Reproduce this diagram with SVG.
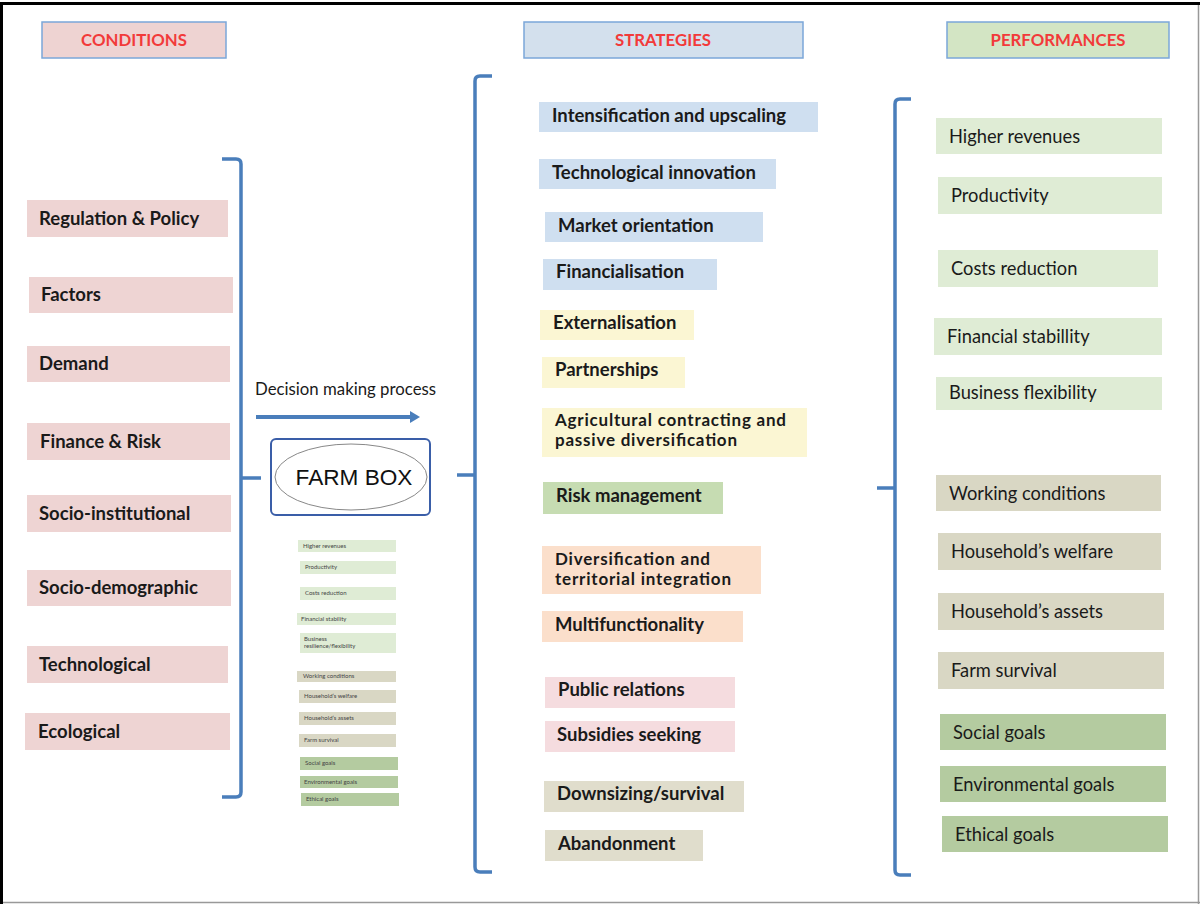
<svg xmlns="http://www.w3.org/2000/svg" width="1200" height="904" viewBox="0 0 1200 904">
<style>
.hdr{stroke:#7ba7d9;stroke-width:1.5}
.ht{font-family:Lato,"Liberation Sans",sans-serif;font-weight:bold;font-size:16.8px;fill:#f23a3a;text-anchor:middle}
.bt{font-family:Lato,"Liberation Sans",sans-serif;font-weight:bold;font-size:18.5px;fill:#1a1a1a}
.b2{font-family:Lato,"Liberation Sans",sans-serif;font-weight:bold;font-size:17px;fill:#1a1a1a}
.pt{font-family:Lato,"Liberation Sans",sans-serif;font-size:18.3px;fill:#1a1a1a}
.st{font-family:Lato,"Liberation Sans",sans-serif;font-size:6px;fill:#444}
.c{fill:#eed4d3}
.sb{fill:#cfdff0}
.sy{fill:#fbf6d3}
.sg{fill:#c6dcb2}
.so{fill:#fbdfcb}
.sp{fill:#f5dcdf}
.se{fill:#e0ddcc}
.pl{fill:#dfecd5}
.pe{fill:#d9d7c4}
.pg{fill:#b4cba0}
.br{fill:none;stroke:#4a7ebb;stroke-width:3.5;stroke-linejoin:round;stroke-linecap:butt}
</style>
<defs>
<marker id="ah" markerWidth="10" markerHeight="12" refX="1" refY="6" orient="auto" markerUnits="userSpaceOnUse"><path d="M0,0 L10,6 L0,12 Z" fill="#4a7ebb"/></marker>
</defs>
<rect width="1200" height="904" fill="#fff"/>
<line x1="1198.5" y1="4" x2="1198.5" y2="904" stroke="#999" stroke-width="1.5"/>
<line x1="0" y1="902.5" x2="1200" y2="902.5" stroke="#999" stroke-width="1.5"/>
<line x1="0" y1="3.5" x2="1200" y2="3.5" stroke="#000" stroke-width="3"/>
<line x1="1.5" y1="2" x2="1.5" y2="904" stroke="#000" stroke-width="3"/>

<g id="headers">
<g id="h-conditions"><rect class="hdr" x="42" y="22" width="184" height="36" fill="#eed3d2"/><text class="ht" x="134" y="46">CONDITIONS</text></g>
<g id="h-strategies"><rect class="hdr" x="524" y="22" width="279" height="36" fill="#d3e0ed"/><text class="ht" x="663" y="46">STRATEGIES</text></g>
<g id="h-performances"><rect class="hdr" x="947" y="22" width="222" height="36" fill="#d3e5c4"/><text class="ht" x="1058" y="46">PERFORMANCES</text></g>
</g>

<g id="conditions">
<g id="c1"><rect class="c" x="27" y="200" width="201" height="37"/><text class="bt" x="39" y="225">Regulation &amp; Policy</text></g>
<g id="c2"><rect class="c" x="29" y="277" width="204" height="36"/><text class="bt" x="41" y="301">Factors</text></g>
<g id="c3"><rect class="c" x="27" y="346" width="203" height="36"/><text class="bt" x="39" y="370">Demand</text></g>
<g id="c4"><rect class="c" x="27" y="423" width="203" height="37"/><text class="bt" x="40" y="448">Finance &amp; Risk</text></g>
<g id="c5"><rect class="c" x="27" y="495" width="204" height="37"/><text class="bt" x="39" y="520">Socio-institutional</text></g>
<g id="c6"><rect class="c" x="27" y="570" width="204" height="36"/><text class="bt" x="39" y="594">Socio-demographic</text></g>
<g id="c7"><rect class="c" x="27" y="646" width="201" height="37"/><text class="bt" x="39" y="671">Technological</text></g>
<g id="c8"><rect class="c" x="25" y="713" width="205" height="37"/><text class="bt" x="38" y="738">Ecological</text></g>
</g>

<g id="strategies">
<g id="s1"><rect class="sb" x="539" y="102" width="279" height="30"/><text class="bt" x="552" y="122">Intensification and upscaling</text></g>
<g id="s2"><rect class="sb" x="539" y="159" width="237" height="30"/><text class="bt" x="552" y="179">Technological innovation</text></g>
<g id="s3"><rect class="sb" x="545" y="212" width="218" height="30"/><text class="bt" x="558" y="232">Market orientation</text></g>
<g id="s4"><rect class="sb" x="543" y="259" width="174" height="31"/><text class="bt" x="556" y="278">Financialisation</text></g>
<g id="s5"><rect class="sy" x="540" y="310" width="154" height="30"/><text class="bt" x="553" y="329">Externalisation</text></g>
<g id="s6"><rect class="sy" x="542" y="357" width="143" height="31"/><text class="bt" x="555" y="376">Partnerships</text></g>
<g id="s7"><rect class="sy" x="542" y="408" width="265" height="49"/><text class="b2" x="555" y="426" textLength="231" lengthAdjust="spacing">Agricultural contracting and</text><text class="b2" x="555" y="446" textLength="182" lengthAdjust="spacing">passive diversification</text></g>
<g id="s8"><rect class="sg" x="543" y="482" width="180" height="32"/><text class="bt" x="556" y="502">Risk management</text></g>
<g id="s9"><rect class="so" x="542" y="546" width="219" height="48"/><text class="b2" x="555" y="565" textLength="155" lengthAdjust="spacing">Diversification and</text><text class="b2" x="555" y="585" textLength="176" lengthAdjust="spacing">territorial integration</text></g>
<g id="s10"><rect class="so" x="542" y="611" width="201" height="31"/><text class="bt" x="555" y="631">Multifunctionality</text></g>
<g id="s11"><rect class="sp" x="545" y="677" width="190" height="31"/><text class="bt" x="558" y="696">Public relations</text></g>
<g id="s12"><rect class="sp" x="545" y="721" width="190" height="31"/><text class="bt" x="557" y="741">Subsidies seeking</text></g>
<g id="s13"><rect class="se" x="544" y="781" width="200" height="31"/><text class="bt" x="557" y="800">Downsizing/survival</text></g>
<g id="s14"><rect class="se" x="545" y="830" width="158" height="31"/><text class="bt" x="558" y="850">Abandonment</text></g>
</g>

<g id="performances">
<g id="p1"><rect class="pl" x="936" y="118" width="226" height="36"/><text class="pt" x="949" y="143">Higher revenues</text></g>
<g id="p2"><rect class="pl" x="938" y="177" width="224" height="37"/><text class="pt" x="951" y="202">Productivity</text></g>
<g id="p3"><rect class="pl" x="938" y="250" width="220" height="37"/><text class="pt" x="951" y="275">Costs reduction</text></g>
<g id="p4"><rect class="pl" x="934" y="318" width="228" height="37"/><text class="pt" x="947" y="343">Financial stabillity</text></g>
<g id="p5"><rect class="pl" x="936" y="377" width="226" height="33"/><text class="pt" x="949" y="399">Business flexibility</text></g>
<g id="p6"><rect class="pe" x="936" y="475" width="225" height="36"/><text class="pt" x="949" y="500">Working conditions</text></g>
<g id="p7"><rect class="pe" x="938" y="533" width="223" height="37"/><text class="pt" x="951" y="558">Household’s welfare</text></g>
<g id="p8"><rect class="pe" x="938" y="593" width="226" height="37"/><text class="pt" x="951" y="618">Household’s assets</text></g>
<g id="p9"><rect class="pe" x="938" y="652" width="226" height="37"/><text class="pt" x="951" y="677">Farm survival</text></g>
<g id="p10"><rect class="pg" x="940" y="714" width="226" height="36"/><text class="pt" x="953" y="739">Social goals</text></g>
<g id="p11"><rect class="pg" x="940" y="766" width="226" height="36"/><text class="pt" x="953" y="791">Environmental goals</text></g>
<g id="p12"><rect class="pg" x="942" y="816" width="226" height="36"/><text class="pt" x="955" y="841">Ethical goals</text></g>
</g>

<g id="farmbox">
<rect x="271" y="439" width="159" height="76" rx="5" fill="#fff" stroke="#3a5ea8" stroke-width="2"/>
<ellipse cx="351" cy="477" rx="76" ry="33" fill="#fff" stroke="#888" stroke-width="1"/>
<text x="354" y="485" font-family="'Liberation Sans',Arial,sans-serif" font-size="22.6" fill="#111" text-anchor="middle">FARM BOX</text>
</g>

<g id="mini-list">
<rect class="pl" x="298" y="540" width="98" height="12"/><text class="st" x="303" y="548">Higher revenues</text>
<rect class="pl" x="300" y="561" width="96" height="13"/><text class="st" x="305" y="569">Productivity</text>
<rect class="pl" x="300" y="587" width="96" height="13"/><text class="st" x="305" y="595">Costs reduction</text>
<rect class="pl" x="297" y="613" width="99" height="12"/><text class="st" x="301" y="621">Financial stability</text>
<rect class="pl" x="300" y="633" width="96" height="20"/><text class="st" x="304" y="641">Business</text><text class="st" x="304" y="648">resilience/flexibility</text>
<rect class="pe" x="297" y="671" width="99" height="11"/><text class="st" x="303" y="678">Working conditions</text>
<rect class="pe" x="299" y="690" width="97" height="13"/><text class="st" x="304" y="698">Household’s welfare</text>
<rect class="pe" x="299" y="712" width="97" height="13"/><text class="st" x="304" y="720">Household’s assets</text>
<rect class="pe" x="299" y="734" width="97" height="13"/><text class="st" x="304" y="742">Farm survival</text>
<rect class="pg" x="300" y="757" width="98" height="13"/><text class="st" x="305" y="765">Social goals</text>
<rect class="pg" x="300" y="776" width="98" height="12"/><text class="st" x="304" y="784">Environmental goals</text>
<rect class="pg" x="301" y="793" width="98" height="13"/><text class="st" x="306" y="801">Ethical goals</text>
</g>

<g id="connectors">
<path class="br" d="M222,159 L236,159 Q241,159 241,164 L241,792 Q241,797 236,797 L222,797 M241,478 L261,478"/>
<path class="br" d="M492,76 L480,76 Q475,76 475,81 L475,867 Q475,872 480,872 L492,872 M475,475 L457,475"/>
<path class="br" d="M911,99 L900,99 Q895,99 895,104 L895,870 Q895,875 900,875 L911,875 M895,488 L877,488"/>
<text x="255" y="395" font-family="Lato,'Liberation Sans',sans-serif" font-size="16.8" fill="#1a1a1a">Decision making process</text>
<line x1="256" y1="417" x2="411" y2="417" stroke="#4a7ebb" stroke-width="4" marker-end="url(#ah)"/>
</g>
</svg>
